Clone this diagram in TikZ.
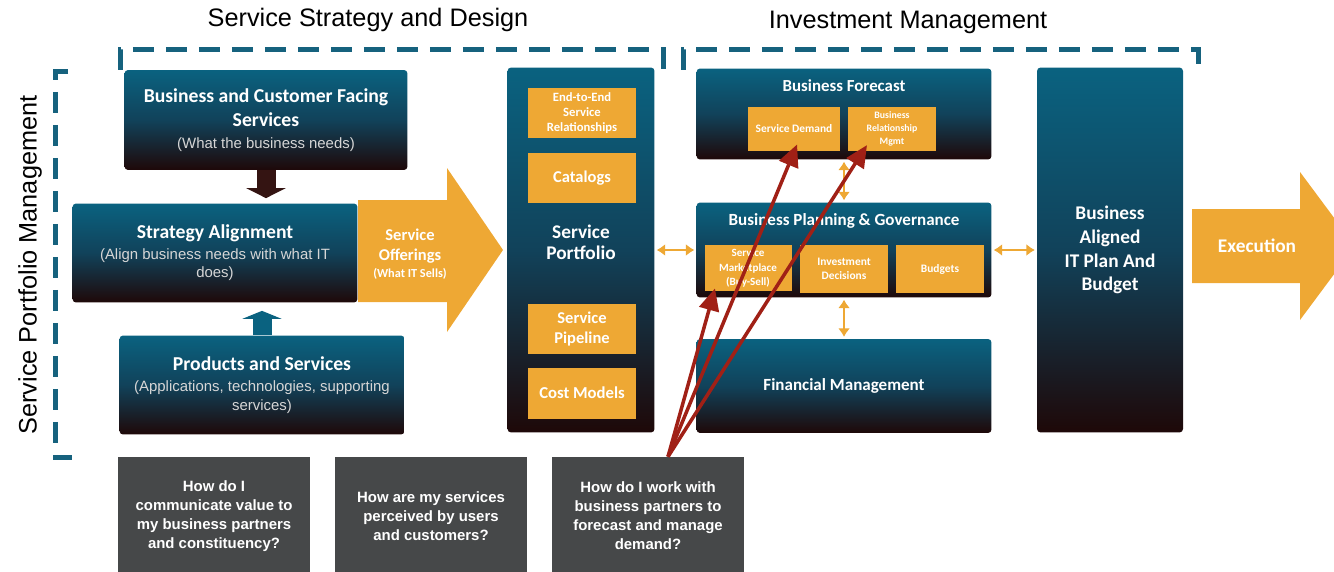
\documentclass[tikz,border=0pt]{standalone}
\usepackage{fontspec}
\setmainfont{Carlito}
\newfontfamily\arialfont{Liberation Sans}
\usetikzlibrary{positioning,arrows.meta}

\definecolor{tealtop}{RGB}{10,98,128}
\definecolor{tealmid}{RGB}{17,66,90}
\definecolor{darkbot}{RGB}{30,8,8}
\definecolor{orng}{RGB}{238,168,52}
\definecolor{dashteal}{RGB}{22,98,126}
\definecolor{qgray}{RGB}{70,72,73}
\definecolor{redarr}{RGB}{160,32,22}
\definecolor{brownarr}{RGB}{52,20,18}
\definecolor{subgray}{RGB}{214,214,214}

\newcommand\fs[2]{\fontsize{#1}{#2}\selectfont}
\newcommand\subtxt[1]{{\arialfont\mdseries\color{subgray}\fs{8.5}{10.4}#1}}

\begin{document}
\begin{tikzpicture}[x=0.02cm,y=-0.02cm,
  box/.style={rectangle,rounded corners=2pt,top color=tealtop,bottom color=darkbot,middle color=tealmid,
    text=white,align=center,inner sep=0pt,font=\bfseries},
  obox/.style={rectangle,fill=orng,text=white,align=center,inner sep=0pt,font=\bfseries},
  qbox/.style={rectangle,fill=qgray,text=white,align=center,inner sep=0pt,
    minimum width=3.84cm,minimum height=2.36cm,font=\arialfont\bfseries\fs{8.5}{10.8}},
  head/.style={font=\arialfont\fs{14.4}{17}},
  dashbox/.style={dashteal,line width=0.1cm,dash pattern=on 0.42cm off 0.24cm},
  dbl/.style={orng,line width=1.5pt,{Latex[length=0.17cm,width=0.24cm]}-{Latex[length=0.17cm,width=0.24cm]},
    shorten <=1pt,shorten >=1pt},
  ask/.style={redarr,line width=2pt,-{Triangle[length=0.44cm,width=0.4cm]}},
]
\useasboundingbox (0,0) rectangle (1334,571);

% headings and dashed brackets
\node[head] (hssd) at (368,20) {Service Strategy and Design};
\node[head] (him) at (908,22) {Investment Management};
\node[head,rotate=90] (hspm) at (30,265) {Service Portfolio Management};
\draw[dashbox] (68,72) -- (55,72) -- (55,457) -- (72,457);
\draw[dashbox] (120,70) -- (120,50) -- (663,50) -- (663,70);
\draw[dashbox] (683,70) -- (683,50) -- (1198,50) -- (1198,70);

% strategy column
\node[box,minimum width=5.66cm,minimum height=2cm,font=\bfseries\fs{11.2}{13.5}] (bcf) at (266,120)
  {Business and Customer Facing\\Services\\[-1pt]\subtxt{(What the business needs)}};
\node[box,minimum width=5.7cm,minimum height=1.98cm,font=\bfseries\fs{11.2}{13.5}] (sa) at (215,253)
  {Strategy Alignment\\[-1.6pt]\subtxt{(Align business needs with what IT}\\[-3.3pt]\subtxt{does)}};
\node[box,minimum width=5.7cm,minimum height=1.98cm,font=\bfseries\fs{11.2}{13.5}] (ps) at (262,385)
  {Products and Services\\[-1.6pt]\subtxt{(Applications, technologies, supporting}\\[-2.7pt]\subtxt{services)}};
\draw[brownarr,line width=0.38cm,-{Triangle[length=0.2cm,width=0.78cm]},shorten >=0.1cm] (bcf.south) -- (bcf.south |- sa.north);
\draw[tealtop,line width=0.38cm,-{Triangle[length=0.16cm,width=0.78cm]},shorten >=0.16cm] (ps.north) -- (ps.north |- sa.south);

% service offerings
\fill[orng] (358,200) -- (447,200) -- (447,168) -- (503,250) -- (447,332) -- (447,302) -- (358,302) -- cycle;
\node[text=white,align=center,font=\bfseries\fs{9.4}{11.3}] (so) at (410,254)
  {Service\\Offerings\\[-1.7pt]{\fs{7}{8}(What IT Sells)}};

% service portfolio
\node[box,minimum width=2.94cm,minimum height=7.3cm] (sp) at (581,250) {};
\node[text=white,align=center,font=\bfseries\fs{11}{12}] (spt) at (581,242) {Service\\Portfolio};
\node[obox,minimum width=2.16cm,minimum height=1.02cm,font=\bfseries\fs{7.2}{8.5}] (e2e) at (582,113) {End-to-End\\Service\\Relationships};
\node[obox,minimum width=2.16cm,minimum height=1cm,font=\bfseries\fs{9.4}{11}] (cat) at (582,178) {Catalogs};
\node[obox,minimum width=2.16cm,minimum height=1.02cm,font=\bfseries\fs{9.4}{11.3}] (pipe) at (582,329) {Service\\Pipeline};
\node[obox,minimum width=2.16cm,minimum height=1.02cm,font=\bfseries\fs{9.5}{11}] (cost) at (582,393) {Cost Models};

% investment management
\node[box,minimum width=5.9cm,minimum height=1.82cm] (bf) at (844,114) {};
\node[text=white,inner sep=0pt,font=\bfseries\fs{9.6}{11},below=0.22cm of bf.north] (bft) {Business Forecast};
\node[obox,minimum width=1.84cm,minimum height=0.9cm,font=\bfseries\fs{6.5}{8}] (sd) at (794,129) {Service Demand};
\node[obox,minimum width=1.76cm,minimum height=0.9cm,font=\bfseries\fs{5.6}{7.6}] (brm) at (892,129) {Business\\Relationship\\Mgmt};

\node[box,minimum width=5.9cm,minimum height=1.9cm] (bpg) at (844,250) {};
\node[text=white,inner sep=0pt,font=\bfseries\fs{9.7}{11},below=0.23cm of bpg.north] (bpgt) {Business Planning \& Governance};
\node[obox,minimum width=1.74cm,minimum height=0.92cm,font=\bfseries\fs{6.3}{8}] (sm) at (748,268) {Service\\Marketplace\\(Buy-Sell)};
\node[obox,minimum width=1.76cm,minimum height=0.96cm,font=\bfseries\fs{6.5}{8}] (id) at (844,269) {Investment\\Decisions};
\node[obox,minimum width=1.76cm,minimum height=0.96cm,font=\bfseries\fs{6.5}{8}] (bud) at (940,269) {Budgets};

\node[box,minimum width=5.9cm,minimum height=1.88cm,font=\bfseries\fs{9.7}{11}] (fm) at (844,386) {Financial Management};
\node[box,minimum width=2.92cm,minimum height=7.3cm,font=\bfseries\fs{11}{13.6}] (bap) at (1110,250) {Business\\Aligned\\IT Plan And\\Budget};

\draw[dbl] (sp.east) -- (bpg.west);
\draw[dbl] (bf.south) -- (bpg.north);
\draw[dbl] (bpg.south) -- (fm.north);
\draw[dbl] (bpg.east) -- (bap.west);

% execution
\fill[orng] (1192,209) -- (1300,209) -- (1300,172) -- (1355,246) -- (1300,320) -- (1300,283) -- (1192,283) -- cycle;
\node[text=white,font=\bfseries\fs{11}{13}] (ex) at (1257,246) {Execution};

% questions
\node[qbox] (q1) at (214,516) {How do I\\communicate value to\\my business partners\\and constituency?};
\node[qbox] (q2) at (431,516) {How are my services\\perceived by users\\and customers?};
\node[qbox,minimum width=3.86cm] (q3) at (648,516) {How do I work with\\business partners to\\forecast and manage\\demand?};

\coordinate (qtop) at ([xshift=0.4cm]q3.north);
\draw[ask,shorten >=-0.16cm] (qtop) -- (sd.south);
\draw[ask,shorten >=-0.16cm] (qtop) -- ([xshift=0.3cm]brm.south west);
\draw[ask,shorten >=-0.06cm] (qtop) -- ([xshift=0.2cm]sm.south west);
\end{tikzpicture}
\end{document}
